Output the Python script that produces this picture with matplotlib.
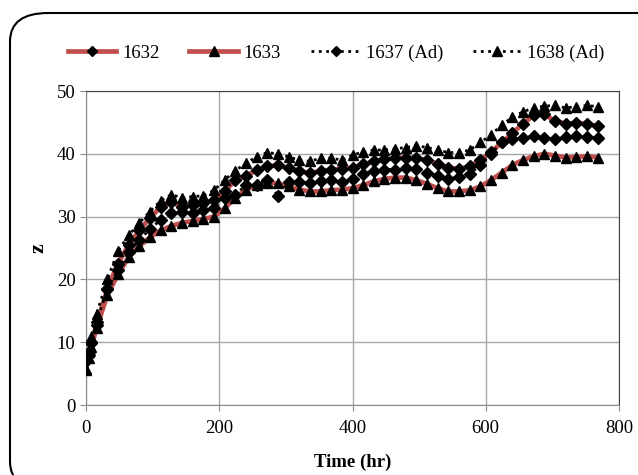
import matplotlib
matplotlib.use("Agg")
import matplotlib.pyplot as plt
from matplotlib.patches import FancyBboxPatch
from matplotlib.lines import Line2D
import numpy as np

plt.rcParams['font.family'] = ['Liberation Serif', 'DejaVu Serif']

# sampling times (hr)
time_hr = [0, 4, 8] + list(range(16, 769, 16))

z_1632 = [7, 8.5, 10, 12.8, 18.5, 22.5, 25.5, 27.8, 29.8, 31.5, 32.3, 31.6, 31.8, 32.1, 32.6, 34, 35.8, 36.5,
          37.4, 38, 38.2, 37.7, 37.2, 37, 37.2, 37.5, 37.6, 37.8, 38.3, 38.8, 39.1, 39.3, 39.4, 39.3, 39,
          38.4, 37.8, 37.6, 38, 39, 40.3, 41.8, 43.3, 44.8, 46.1, 46.3, 45.2, 44.8, 44.9, 44.8, 44.4]
z_1633 = [5.8, 7.5, 9.3, 12.3, 17.5, 20.8, 23.5, 25.3, 26.7, 27.8, 28.5, 29, 29.3, 29.6, 30, 31.3, 33, 34.3,
          35, 35.4, 35.3, 34.8, 34.3, 34, 34, 34.2, 34.3, 34.5, 35, 35.6, 36, 36.2, 36.2, 35.8, 35.2,
          34.5, 34, 34, 34.2, 34.8, 35.8, 37, 38.2, 39, 39.6, 40, 39.7, 39.4, 39.5, 39.6, 39.4]
z_1637 = [7.3, 8, 9.8, 13.2, 18.5, 21.5, 24.3, 26.3, 28, 29.5, 30.5, 30.8, 30.6, 31, 31.3, 33, 33.5, 35,
          35, 35.8, 33.3, 35.5, 35.5, 35.3, 35.6, 35.8, 35.5, 36, 36.8, 37.3, 37.5, 37.5, 37.8, 37.6, 37,
          36.5, 36, 36.3, 36.8, 38.2, 40, 41.8, 42.3, 42.5, 42.8, 42.5, 42.4, 42.7, 42.8, 42.6, 42.5]
z_1638 = [5.5, 8.5, 10.8, 14.5, 20, 24.5, 27, 29, 30.8, 32.5, 33.5, 33, 33.2, 33.3, 34.2, 35.8, 37.3, 38.5,
          39.5, 40.2, 40, 39.5, 39, 38.8, 39.3, 39.3, 39, 39.8, 40.3, 40.6, 40.6, 40.8, 41, 41.3, 41,
          40.6, 40.2, 40.2, 40.6, 41.8, 43, 44.6, 45.8, 46.7, 47.3, 47.6, 47.7, 47.3, 47.5, 47.7, 47.5]

labels = ['1632', '1633', '1637 (Ad)', '1638 (Ad)']

red = '#C0504D'

fig = plt.figure(figsize=(6.38, 4.75), dpi=100)

# rounded chart border (runs off the right/bottom edge like the original)
border = FancyBboxPatch((10 / 638, 1 - 490 / 475), 700 / 638, 477 / 475,
                        boxstyle='round,pad=0,rounding_size=0.06',
                        transform=fig.transFigure, facecolor='white',
                        edgecolor='black', linewidth=1.5, zorder=-1)
fig.patches.append(border)

ax = fig.add_axes([86 / 638, 1 - 405 / 475, 533 / 638, 314 / 475])

ax.plot(time_hr, z_1632, color=red, lw=3.4, solid_joinstyle='round', zorder=3)
ax.plot(time_hr, z_1632, 'D', color='black', ms=5.8, zorder=4)
ax.plot(time_hr, z_1633, color=red, lw=3.4, solid_joinstyle='round', zorder=3)
ax.plot(time_hr, z_1633, '^', color='black', ms=7.3, zorder=4)
ax.plot(time_hr, z_1637, ':', color='black', lw=2, marker='D', ms=5.8, zorder=5)
ax.plot(time_hr, z_1638, ':', color='black', lw=2, marker='^', ms=7.3, zorder=5)

ax.set_xlim(0, 800)
ax.set_ylim(0, 50)
ax.set_xticks(range(0, 801, 200))
ax.set_yticks(range(0, 51, 10))
ax.grid(True, color='#A6A6A6', lw=1)
ax.set_axisbelow(True)
for s in ['left', 'bottom']:
    ax.spines[s].set_color('#8C8C8C')
for s in ['top', 'right']:
    ax.spines[s].set_color('#404040')
ax.tick_params(colors='#8C8C8C', labelcolor='black', labelsize=13.5, length=4)
ax.tick_params(axis='x', pad=7)

ax.set_xlabel('Time (hr)', fontsize=13.5, fontweight='bold', labelpad=12)
ax.set_ylabel('z', fontsize=16, fontweight='bold', labelpad=6)

handles = [
    Line2D([], [], color=red, lw=3.4, marker='D', mfc='black', mec='black', ms=5),
    Line2D([], [], color=red, lw=3.4, marker='^', mfc='black', mec='black', ms=6.5),
    Line2D([], [], color='black', lw=2, ls=':', marker='D', ms=5),
    Line2D([], [], color='black', lw=2, ls=':', marker='^', ms=6.5),
]
fig.legend(handles, labels, loc='center', bbox_to_anchor=(0.527, 1 - 53 / 475),
           ncol=4, frameon=False, fontsize=13.5, handlelength=2.6,
           handletextpad=0.3, columnspacing=1.6)

fig.savefig('out.png', dpi=100)
